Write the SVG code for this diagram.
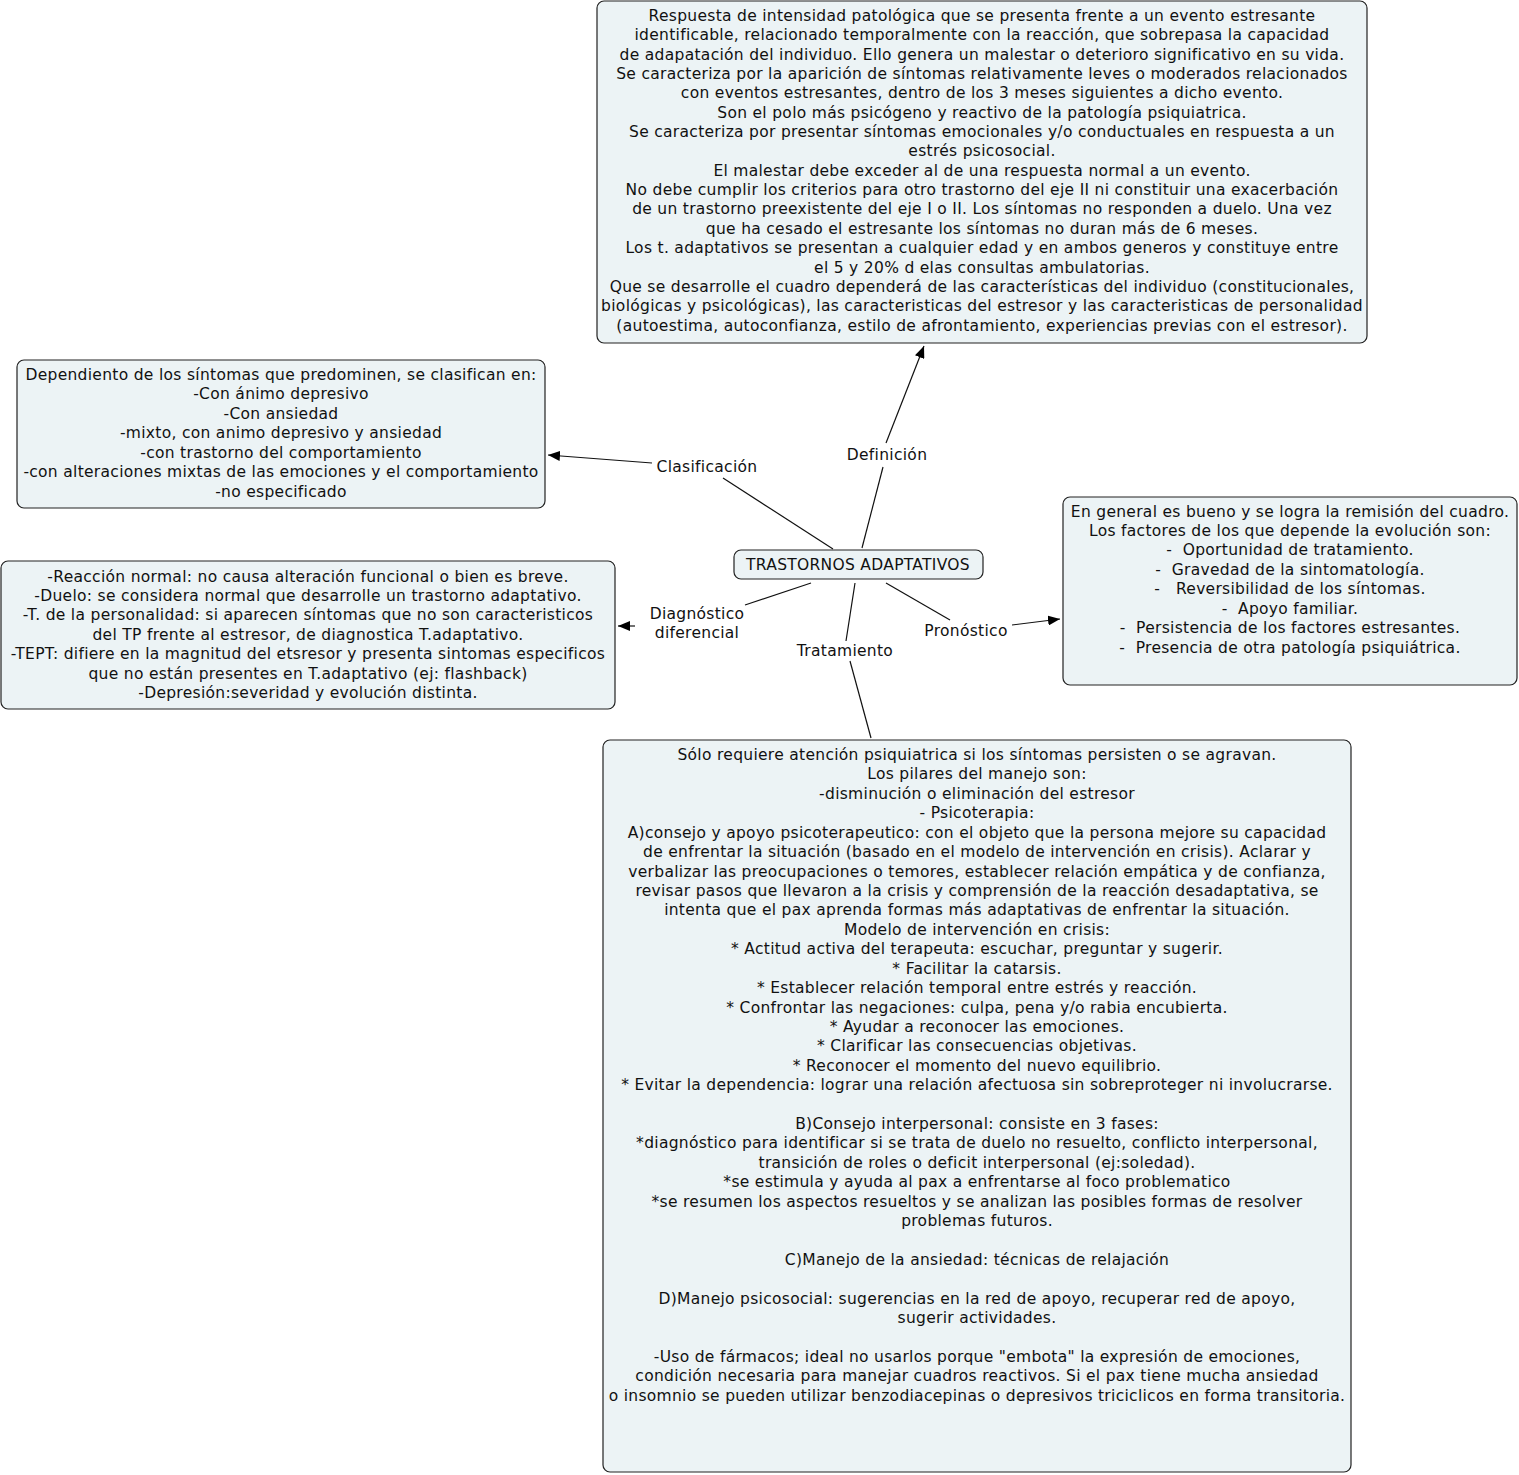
<svg xmlns="http://www.w3.org/2000/svg" width="1519" height="1475" viewBox="0 0 1519 1475">
<style>
.box{fill:#ecf3f5;stroke:#222;stroke-width:1.2}
text{font-family:"DejaVu Sans",Verdana,sans-serif;font-size:15.5px;letter-spacing:0.3px;fill:#111;text-anchor:middle;dominant-baseline:central;white-space:pre}
.c{stroke:#111;stroke-width:1.2;fill:none}
</style>
<defs>
<marker id="ah" viewBox="0 0 12 10" refX="12" refY="5" markerWidth="12" markerHeight="10" markerUnits="userSpaceOnUse" orient="auto">
<path d="M0,0 L12,5 L0,10 Z" fill="#000"/>
</marker>
</defs>
<rect width="1519" height="1475" fill="#fff"/>
<g id="connectors">
<line class="c" x1="862" y1="548" x2="883" y2="467"/>
<line class="c" x1="886" y1="443" x2="924" y2="346" marker-end="url(#ah)"/>
<line class="c" x1="833" y1="549" x2="723" y2="478"/>
<line class="c" x1="652" y1="463" x2="548" y2="455" marker-end="url(#ah)"/>
<line class="c" x1="811" y1="583" x2="745" y2="605"/>
<line class="c" x1="635" y1="626" x2="618" y2="626" marker-end="url(#ah)"/>
<line class="c" x1="855" y1="583" x2="846" y2="641"/>
<line class="c" x1="850" y1="661" x2="871" y2="738"/>
<line class="c" x1="886" y1="583" x2="950" y2="620"/>
<line class="c" x1="1012" y1="625" x2="1060" y2="619" marker-end="url(#ah)"/>
<text x="887" y="455">Definición</text>
<text x="707" y="467">Clasificación</text>
<text x="697" y="614">Diagnóstico</text>
<text x="697" y="633">diferencial</text>
<text x="845" y="651">Tratamiento</text>
<text x="966" y="631">Pronóstico</text>
</g>
<g id="center">
<rect class="box" x="734" y="550" width="249" height="29" rx="7"/>
<text x="858" y="565">TRASTORNOS ADAPTATIVOS</text>
</g>
<g id="definicion">
<rect class="box" x="597" y="1" width="770" height="342" rx="7"/>
<text x="982" y="16">Respuesta de intensidad patológica que se presenta frente a un evento estresante</text>
<text x="982" y="35">identificable, relacionado temporalmente con la reacción, que sobrepasa la capacidad</text>
<text x="982" y="55">de adapatación del individuo. Ello genera un malestar o deterioro significativo en su vida.</text>
<text x="982" y="74">Se caracteriza por la aparición de síntomas relativamente leves o moderados relacionados</text>
<text x="982" y="93">con eventos estresantes, dentro de los 3 meses siguientes a dicho evento.</text>
<text x="982" y="113">Son el polo más psicógeno y reactivo de la patología psiquiatrica.</text>
<text x="982" y="132">Se caracteriza por presentar síntomas emocionales y/o conductuales en respuesta a un</text>
<text x="982" y="151">estrés psicosocial.</text>
<text x="982" y="171">El malestar debe exceder al de una respuesta normal a un evento.</text>
<text x="982" y="190">No debe cumplir los criterios para otro trastorno del eje II ni constituir una exacerbación</text>
<text x="982" y="209">de un trastorno preexistente del eje I o II. Los síntomas no responden a duelo. Una vez</text>
<text x="982" y="229">que ha cesado el estresante los síntomas no duran más de 6 meses.</text>
<text x="982" y="248">Los t. adaptativos se presentan a cualquier edad y en ambos generos y constituye entre</text>
<text x="982" y="268">el 5 y 20% d elas consultas ambulatorias.</text>
<text x="982" y="287">Que se desarrolle el cuadro dependerá de las características del individuo (constitucionales,</text>
<text x="982" y="306">biológicas y psicológicas), las caracteristicas del estresor y las caracteristicas de personalidad</text>
<text x="982" y="326">(autoestima, autoconfianza, estilo de afrontamiento, experiencias previas con el estresor).</text>
</g>
<g id="clasificacion">
<rect class="box" x="17" y="360" width="528" height="148" rx="7"/>
<text x="281" y="375">Dependiento de los síntomas que predominen, se clasifican en:</text>
<text x="281" y="394">-Con ánimo depresivo</text>
<text x="281" y="414">-Con ansiedad</text>
<text x="281" y="433">-mixto, con animo depresivo y ansiedad</text>
<text x="281" y="453">-con trastorno del comportamiento</text>
<text x="281" y="472">-con alteraciones mixtas de las emociones y el comportamiento</text>
<text x="281" y="492">-no especificado</text>
</g>
<g id="diagnostico">
<rect class="box" x="1" y="561" width="614" height="148" rx="7"/>
<text x="308" y="577">-Reacción normal: no causa alteración funcional o bien es breve.</text>
<text x="308" y="596">-Duelo: se considera normal que desarrolle un trastorno adaptativo.</text>
<text x="308" y="615">-T. de la personalidad: si aparecen síntomas que no son caracteristicos</text>
<text x="308" y="635">del TP frente al estresor, de diagnostica T.adaptativo.</text>
<text x="308" y="654">-TEPT: difiere en la magnitud del etsresor y presenta sintomas especificos</text>
<text x="308" y="674">que no están presentes en T.adaptativo (ej: flashback)</text>
<text x="308" y="693">-Depresión:severidad y evolución distinta.</text>
</g>
<g id="pronostico">
<rect class="box" x="1063" y="497" width="454" height="188" rx="7"/>
<text x="1290" y="512">En general es bueno y se logra la remisión del cuadro.</text>
<text x="1290" y="531">Los factores de los que depende la evolución son:</text>
<text x="1290" y="550">-  Oportunidad de tratamiento.</text>
<text x="1290" y="570">-  Gravedad de la sintomatología.</text>
<text x="1290" y="589">-   Reversibilidad de los síntomas.</text>
<text x="1290" y="609">-  Apoyo familiar.</text>
<text x="1290" y="628">-  Persistencia de los factores estresantes.</text>
<text x="1290" y="648">-  Presencia de otra patología psiquiátrica.</text>
</g>
<g id="tratamiento">
<rect class="box" x="603" y="740" width="748" height="732" rx="7"/>
<text x="977" y="755">Sólo requiere atención psiquiatrica si los síntomas persisten o se agravan.</text>
<text x="977" y="774">Los pilares del manejo son:</text>
<text x="977" y="794">-disminución o eliminación del estresor</text>
<text x="977" y="813">- Psicoterapia:</text>
<text x="977" y="833">A)consejo y apoyo psicoterapeutico: con el objeto que la persona mejore su capacidad</text>
<text x="977" y="852">de enfrentar la situación (basado en el modelo de intervención en crisis). Aclarar y</text>
<text x="977" y="872">verbalizar las preocupaciones o temores, establecer relación empática y de confianza,</text>
<text x="977" y="891">revisar pasos que llevaron a la crisis y comprensión de la reacción desadaptativa, se</text>
<text x="977" y="910">intenta que el pax aprenda formas más adaptativas de enfrentar la situación.</text>
<text x="977" y="930">Modelo de intervención en crisis:</text>
<text x="977" y="949">* Actitud activa del terapeuta: escuchar, preguntar y sugerir.</text>
<text x="977" y="969">* Facilitar la catarsis.</text>
<text x="977" y="988">* Establecer relación temporal entre estrés y reacción.</text>
<text x="977" y="1008">* Confrontar las negaciones: culpa, pena y/o rabia encubierta.</text>
<text x="977" y="1027">* Ayudar a reconocer las emociones.</text>
<text x="977" y="1046">* Clarificar las consecuencias objetivas.</text>
<text x="977" y="1066">* Reconocer el momento del nuevo equilibrio.</text>
<text x="977" y="1085">* Evitar la dependencia: lograr una relación afectuosa sin sobreproteger ni involucrarse.</text>
<text x="977" y="1124">B)Consejo interpersonal: consiste en 3 fases:</text>
<text x="977" y="1143">*diagnóstico para identificar si se trata de duelo no resuelto, conflicto interpersonal,</text>
<text x="977" y="1163">transición de roles o deficit interpersonal (ej:soledad).</text>
<text x="977" y="1182">*se estimula y ayuda al pax a enfrentarse al foco problematico</text>
<text x="977" y="1202">*se resumen los aspectos resueltos y se analizan las posibles formas de resolver</text>
<text x="977" y="1221">problemas futuros.</text>
<text x="977" y="1260">C)Manejo de la ansiedad: técnicas de relajación</text>
<text x="977" y="1299">D)Manejo psicosocial: sugerencias en la red de apoyo, recuperar red de apoyo,</text>
<text x="977" y="1318">sugerir actividades.</text>
<text x="977" y="1357">-Uso de fármacos; ideal no usarlos porque "embota" la expresión de emociones,</text>
<text x="977" y="1376">condición necesaria para manejar cuadros reactivos. Si el pax tiene mucha ansiedad</text>
<text x="977" y="1396">o insomnio se pueden utilizar benzodiacepinas o depresivos triciclicos en forma transitoria.</text>
</g>
</svg>
